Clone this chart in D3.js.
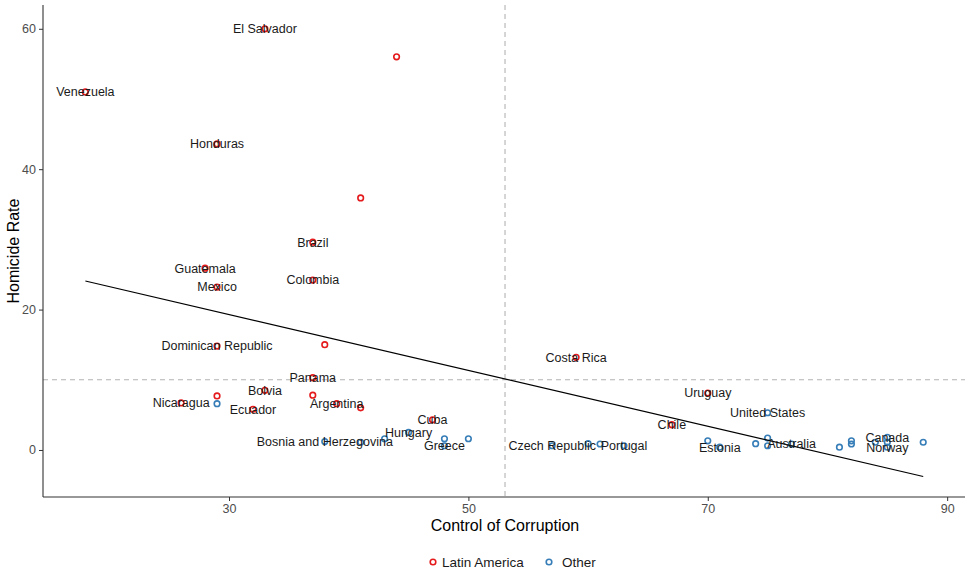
<!DOCTYPE html>
<html>
<head>
<meta charset="utf-8">
<script src="https://cdn.jsdelivr.net/npm/d3@7"></script>
<style>
body { margin: 0; background: #fff; }
svg { display: block; font-family: "Liberation Sans", Arial, sans-serif; }
</style>
</head>
<body>
<svg id="chart" width="970" height="570"></svg>
<script>
// ---- data ----
const latinLabels = ["El Salvador", "", "Venezuela", "Honduras", "", "Brazil", "Guatemala", "Colombia", "Mexico", "Dominican Republic", "", "Costa Rica", "Panama", "Bolvia", "", "", "Nicaragua", "Argentina", "Ecuador", "", "Uruguay", "Cuba", "Chile"];
const latinCorruption = [33, 44, 18, 29, 41, 37, 28, 37, 29, 29, 38, 59, 37, 33, 29, 37, 26, 39, 32, 41, 70, 47, 67];
const latinHomicide = [60, 56, 51, 43.6, 35.9, 29.6, 25.9, 24.2, 23.2, 14.8, 15.0, 13.2, 10.3, 8.5, 7.7, 7.8, 6.7, 6.6, 5.8, 6.0, 8.1, 4.3, 3.6];

const otherLabels = ["", "Bosnia and Herzegovina", "", "", "Hungary", "Greece", "", "", "Czech Republic", "", "", "Portugal", "", "Estonia", "", "", "", "United States", "Australia", "", "", "", "", "Canada", "", "Norway", ""];
const otherCorruption = [29, 38, 41, 43, 45, 48, 48, 50, 57, 60, 61, 63, 70, 71, 74, 75, 75, 75, 77, 81, 82, 82, 84, 85, 85, 85, 88];
const otherHomicide = [6.6, 1.2, 1.1, 1.6, 2.5, 0.6, 1.6, 1.6, 0.6, 0.9, 0.85, 0.6, 1.3, 0.4, 0.9, 1.7, 0.6, 5.3, 0.85, 0.4, 1.3, 0.85, 1.1, 1.8, 1.1, 0.4, 1.1];

const groups = ["Latin America", "Other"];
const groupColors = ["#E41A1C", "#377EB8"];
const xTicks = [30, 50, 70, 90];
const yTicks = [0, 20, 40, 60];
// dashed reference lines (averages)
const refCorruption = 53.06;
const refHomicide = 10.0;

// ---- build rows ----
const rows = [];
latinLabels.forEach((l, i) => rows.push({label: l, x: latinCorruption[i], y: latinHomicide[i], g: groups[0]}));
otherLabels.forEach((l, i) => rows.push({label: l, x: otherCorruption[i], y: otherHomicide[i], g: groups[1]}));

const meanX = d3.mean(rows, d => d.x);
const meanY = d3.mean(rows, d => d.y);
const sxy = d3.sum(rows, d => (d.x - meanX) * (d.y - meanY));
const sxx = d3.sum(rows, d => (d.x - meanX) ** 2);
const slope = sxy / sxx;
const intercept = meanY - slope * meanX;
const xExt = d3.extent(rows, d => d.x);

// ---- layout ----
const svg = d3.select("#chart");
const pL = 43, pR = 965, pT = 5, pB = 497;

const x = d3.scaleLinear().domain([14.46, 91.49]).range([pL, pR]);
const y = d3.scaleLinear().domain([-6.70, 63.39]).range([pB, pT]);
const color = d3.scaleOrdinal().domain(groups).range(groupColors);

svg.append("line")
  .attr("x1", x(refCorruption)).attr("x2", x(refCorruption))
  .attr("y1", pT).attr("y2", pB)
  .attr("stroke", "#b3b3b3").attr("stroke-width", 1.1).attr("stroke-dasharray", "5,4");
svg.append("line")
  .attr("x1", pL).attr("x2", pR)
  .attr("y1", y(refHomicide)).attr("y2", y(refHomicide))
  .attr("stroke", "#b3b3b3").attr("stroke-width", 1.1).attr("stroke-dasharray", "5,4");

svg.append("g").selectAll("circle").data(rows).join("circle")
  .attr("cx", d => x(d.x)).attr("cy", d => y(d.y)).attr("r", 2.8)
  .attr("fill", "none").attr("stroke", d => color(d.g)).attr("stroke-width", 1.6);

const line = d3.line().x(d => x(d[0])).y(d => y(d[1]));
svg.append("path")
  .datum([[xExt[0], intercept + slope * xExt[0]], [xExt[1], intercept + slope * xExt[1]]])
  .attr("d", line).attr("stroke", "#000").attr("stroke-width", 1.2).attr("fill", "none");

svg.append("g").selectAll("text").data(rows.filter(d => d.label)).join("text")
  .attr("x", d => x(d.x)).attr("y", d => y(d.y))
  .attr("text-anchor", "middle").attr("dy", "0.35em")
  .attr("font-size", 12.5).attr("fill", "#1a1a1a")
  .text(d => d.label);

const xAxis = svg.append("g").attr("transform", `translate(0,${pB})`)
  .call(d3.axisBottom(x).tickValues(xTicks).tickSize(4).tickPadding(3).tickSizeOuter(0));
const yAxis = svg.append("g").attr("transform", `translate(${pL},0)`)
  .call(d3.axisLeft(y).tickValues(yTicks).tickSize(4).tickPadding(3).tickSizeOuter(0));
[xAxis, yAxis].forEach(a => {
  a.select(".domain").attr("stroke", "#333").attr("stroke-width", 1.1);
  a.selectAll(".tick line").attr("stroke", "#333");
  a.selectAll(".tick text").attr("fill", "#4d4d4d").attr("font-size", 12.5)
    .attr("font-family", "'Liberation Sans', Arial, sans-serif");
});
xAxis.select(".domain").attr("d", `M${pL},0H${pR}`);
yAxis.select(".domain").attr("d", `M0,${pT}V${pB}`);

svg.append("text").attr("x", 505).attr("y", 531)
  .attr("text-anchor", "middle").attr("font-size", 16).attr("fill", "#000")
  .text("Control of Corruption");
svg.append("text").attr("transform", `translate(19,${(pT + pB) / 2}) rotate(-90)`)
  .attr("text-anchor", "middle").attr("font-size", 16).attr("fill", "#000")
  .text("Homicide Rate");

const legend = svg.append("g").attr("transform", "translate(0,562)");
const legX = [433, 549];
groups.forEach((g, i) => {
  legend.append("circle").attr("cx", legX[i]).attr("cy", 0).attr("r", 2.8)
    .attr("fill", "none").attr("stroke", groupColors[i]).attr("stroke-width", 1.6);
  legend.append("text").attr("x", legX[i] + (i === 0 ? 9 : 13)).attr("y", 0).attr("dy", "0.35em")
    .attr("font-size", 13.5).attr("fill", "#1a1a1a").text(g);
});
</script>
</body>
</html>
